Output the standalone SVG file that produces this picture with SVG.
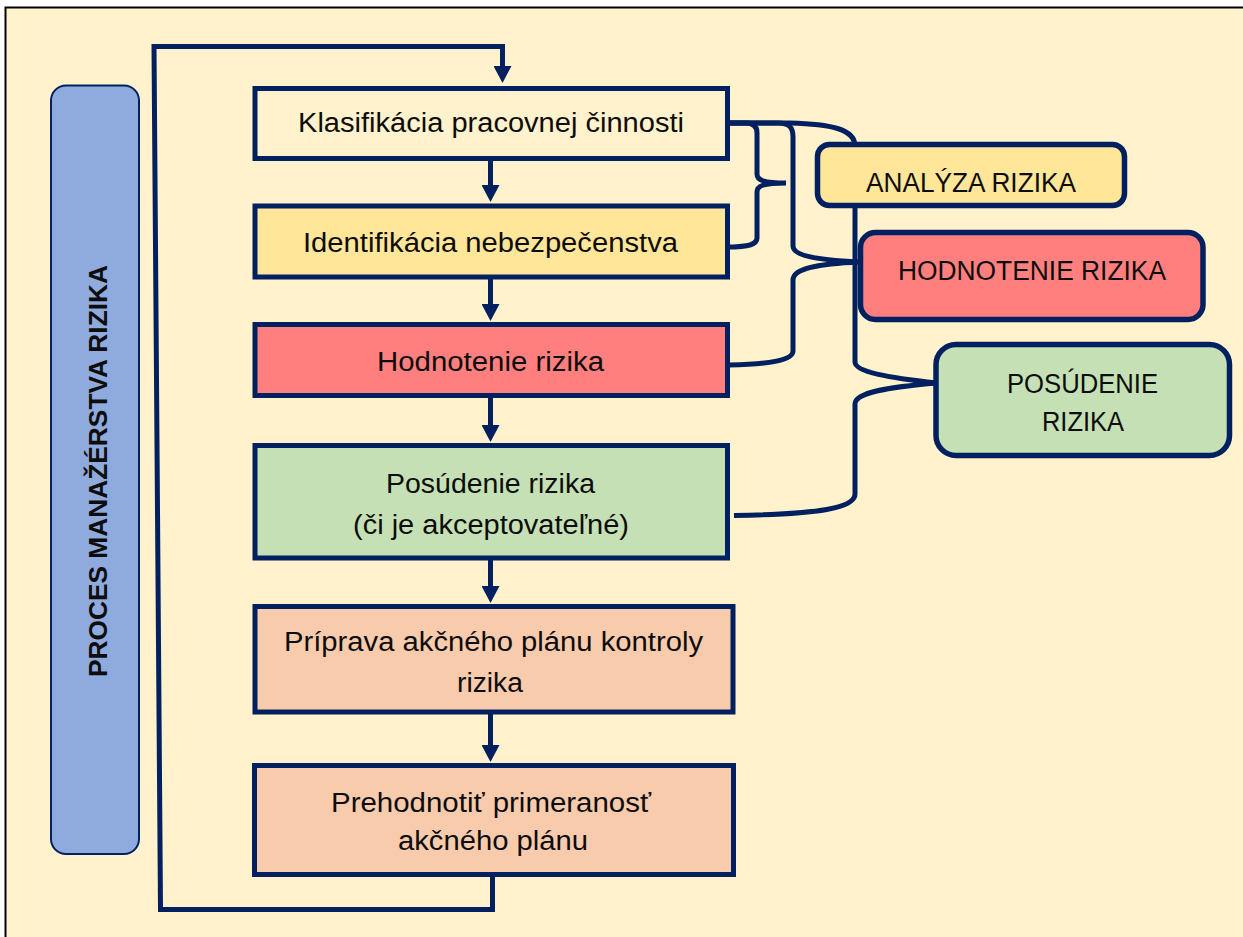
<svg xmlns="http://www.w3.org/2000/svg" width="1243" height="937" viewBox="0 0 1243 937">
  <defs>
    <style>
      .frame { fill: #FFF2CC; stroke: #000000; stroke-width: 2; }
      .step { stroke: #002060; stroke-width: 5; }
      .group { stroke: #002060; stroke-width: 5.5; }
      .wire { fill: none; stroke: #002060; stroke-width: 5; stroke-linejoin: miter; }
      .txt { font-family: "Liberation Sans", Arial, sans-serif; font-size: 27px; fill: #0D0D0D; text-anchor: middle; }
      .side { font-family: "Liberation Sans", Arial, sans-serif; font-size: 26px; font-weight: bold; fill: #0D0D0D; text-anchor: middle; }
      .cream { fill: #FFF2CC; }
      .yellow { fill: #FFE699; }
      .red { fill: #FF7F7F; }
      .green { fill: #C5E0B4; }
      .peach { fill: #F8CBAD; }
    </style>
    <marker id="head" markerUnits="userSpaceOnUse" markerWidth="18" markerHeight="18" viewBox="0 0 17 18" refX="1" refY="9" orient="auto">
      <path d="M0,0 L17,9 L0,18 Z" fill="#002060"/>
    </marker>
  </defs>

  <!-- page background -->
  <rect x="0" y="0" width="1243" height="937" fill="#FFFFFF"/>
  <rect class="frame" x="5.5" y="7.5" width="1250" height="940"/>

  <!-- connectors: flow arrows, feedback loop and grouping braces -->
  <g id="connectors">
    <!-- feedback loop back to the first step -->
    <path class="wire" d="M492.5,876 V909.5 H160.5 L154,46.5 H502.5 V67" marker-end="url(#head)"/>
    <!-- step to step arrows -->
    <path class="wire" d="M490.5,158 V186" marker-end="url(#head)"/>
    <path class="wire" d="M490.5,277 V305" marker-end="url(#head)"/>
    <path class="wire" d="M490.5,396 V426" marker-end="url(#head)"/>
    <path class="wire" d="M490.5,558 V587" marker-end="url(#head)"/>
    <path class="wire" d="M490.5,712 V746" marker-end="url(#head)"/>
    <!-- brace: risk analysis -->
    <path class="wire" d="M727,123 H746 C753,123 757,126 757,133 V174 C757,180 763,183 786,183 M786,183 C763,183 757,186 757,192 V238 C757,244 750,247 727,247"/>
    <!-- brace: risk evaluation -->
    <path class="wire" d="M727,123 H778 C789,123 793,127 793,137 V246 C793,255 815,260 859,262 M859,262 C815,264 793,269 793,280 V351 C793,360 770,364 729,365"/>
    <!-- brace: risk assessment -->
    <path class="wire" d="M727,123 H790 C830,124 855,129 855,146 V362 C855,372 890,378 937,383 M937,383 C890,387 855,392 855,404 V494 C855,508 820,514 734,515.5"/>
  </g>

  <!-- side label -->
  <g id="process-label">
    <rect x="51" y="85.5" width="88" height="768.5" rx="15" fill="#8FAADC" stroke="#002060" stroke-width="2"/>
    <text class="side" transform="translate(106.5,471) rotate(-90)" textLength="412" lengthAdjust="spacingAndGlyphs">PROCES MANAŽÉRSTVA RIZIKA</text>
  </g>

  <!-- process steps -->
  <g id="step-classification">
    <rect class="step cream" x="255" y="88.5" width="472.5" height="70"/>
    <text class="txt" x="491" y="132" textLength="386" lengthAdjust="spacingAndGlyphs">Klasifikácia pracovnej činnosti</text>
  </g>
  <g id="step-identification">
    <rect class="step yellow" x="255" y="206" width="472.5" height="71"/>
    <text class="txt" x="490.5" y="252" textLength="375" lengthAdjust="spacingAndGlyphs">Identifikácia nebezpečenstva</text>
  </g>
  <g id="step-evaluation">
    <rect class="step red" x="255" y="324.5" width="472.5" height="71"/>
    <text class="txt" x="490.5" y="371" textLength="227" lengthAdjust="spacingAndGlyphs">Hodnotenie rizika</text>
  </g>
  <g id="step-assessment">
    <rect class="step green" x="255" y="445.5" width="472.5" height="112.5"/>
    <text class="txt" x="490.5" y="493" textLength="209" lengthAdjust="spacingAndGlyphs">Posúdenie rizika</text>
    <text class="txt" x="491" y="534" textLength="276" lengthAdjust="spacingAndGlyphs">(či je akceptovateľné)</text>
  </g>
  <g id="step-action-plan">
    <rect class="step peach" x="255" y="606.5" width="478" height="105.5"/>
    <text class="txt" x="493.5" y="651" textLength="419" lengthAdjust="spacingAndGlyphs">Príprava akčného plánu kontroly</text>
    <text class="txt" x="490" y="692" textLength="66" lengthAdjust="spacingAndGlyphs">rizika</text>
  </g>
  <g id="step-review">
    <rect class="step peach" x="254.5" y="765.5" width="479" height="109"/>
    <text class="txt" x="491" y="812" textLength="320" lengthAdjust="spacingAndGlyphs">Prehodnotiť primeranosť</text>
    <text class="txt" x="493" y="850" textLength="190" lengthAdjust="spacingAndGlyphs">akčného plánu</text>
  </g>

  <!-- grouping labels -->
  <g id="group-analysis">
    <rect class="group yellow" x="817.5" y="144.5" width="307" height="61" rx="12"/>
    <text class="txt" x="971" y="192" textLength="210" lengthAdjust="spacingAndGlyphs">ANALÝZA RIZIKA</text>
  </g>
  <g id="group-evaluation">
    <rect class="group red" x="860.5" y="232.5" width="342.5" height="87" rx="15"/>
    <text class="txt" x="1032" y="280" textLength="268" lengthAdjust="spacingAndGlyphs">HODNOTENIE RIZIKA</text>
  </g>
  <g id="group-assessment">
    <rect class="group green" x="936" y="344.5" width="293.5" height="111" rx="20"/>
    <text class="txt" x="1082.5" y="393" textLength="151" lengthAdjust="spacingAndGlyphs">POSÚDENIE</text>
    <text class="txt" x="1083" y="431" textLength="82" lengthAdjust="spacingAndGlyphs">RIZIKA</text>
  </g>
</svg>
